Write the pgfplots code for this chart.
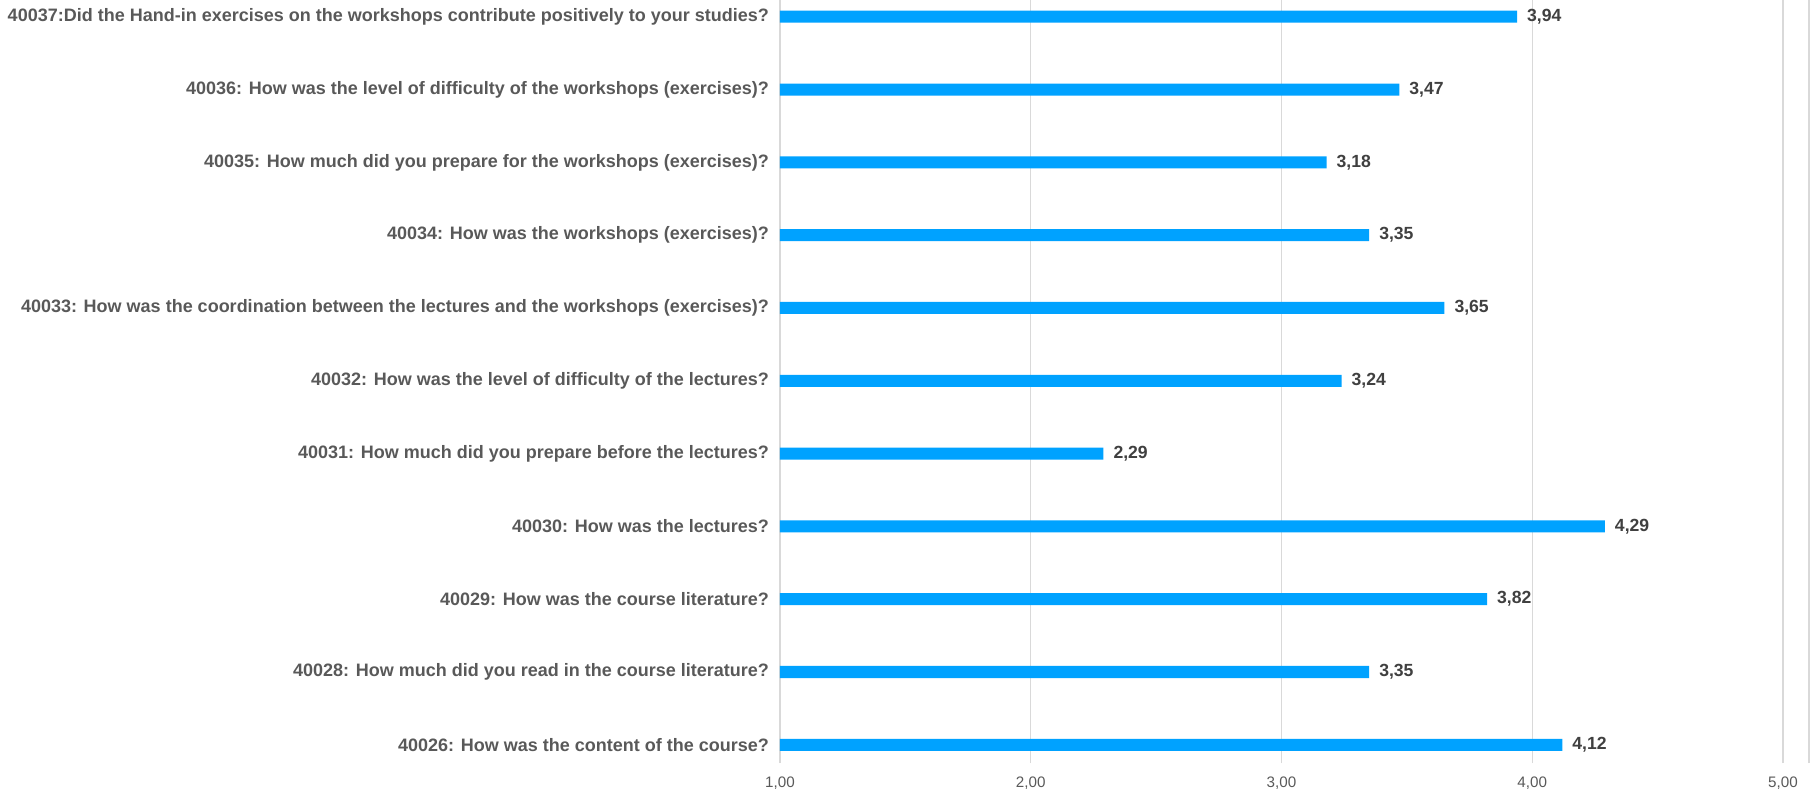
\documentclass[border=0pt]{standalone}
\usepackage{fontspec}
\setmainfont{Liberation Sans}
\usepackage{pgfplots}
\pgfplotsset{compat=1.18}
\definecolor{barblue}{RGB}{0,162,255}
\definecolor{lblgray}{RGB}{89,89,89}
\definecolor{valgray}{RGB}{64,64,64}
\definecolor{gridgray}{RGB}{217,217,217}
\begin{document}
\begin{tikzpicture}
\begin{axis}[
 scale only axis, width=514.5pt, height=381.5pt,
 xbar, bar width=6pt,
 xmin=1, xmax=5.104, ymin=-0.25, ymax=10.23,
 axis line style={draw=none},
 xtick={1,2,3,4,5},
 extra x ticks={5.104}, extra x tick labels={},
 extra x tick style={xmajorgrids=true},
 xmajorgrids, grid style={gridgray, line width=0.6pt},
 major tick length=0pt,
 ytick={0,...,10},
 yticklabels={
  {40026: How was the content of the course?},
  {40028: How much did you read in the course literature?},
  {40029: How was the course literature?},
  {40030: How was the lectures?},
  {40031: How much did you prepare before the lectures?},
  {40032: How was the level of difficulty of the lectures?},
  {40033: How was the coordination between the lectures and the workshops (exercises)?},
  {40034: How was the workshops (exercises)?},
  {40035: How much did you prepare for the workshops (exercises)?},
  {40036: How was the level of difficulty of the workshops (exercises)?},
  {40037:Did the Hand-in exercises on the workshops contribute positively to your studies?}},
 yticklabel style={font=\bfseries\fontsize{9}{11}\selectfont, text=lblgray, xshift=-2pt},
 xticklabel style={font=\fontsize{7.6}{9}\selectfont, text=lblgray, anchor=center, yshift=-10pt},
 /pgf/number format/fixed, /pgf/number format/fixed zerofill,
 /pgf/number format/precision=2, /pgf/number format/use comma,
 /pgf/number format/assume math mode=true,
 nodes near coords,
 every node near coord/.append style={font=\bfseries\fontsize{8.8}{10}\selectfont, text=valgray, xshift=1.5pt},
]
\addplot[draw=none, fill=barblue] coordinates {
 (4.12,0) (3.35,1) (3.82,2) (4.29,3) (2.29,4) (3.24,5)
 (3.65,6) (3.35,7) (3.18,8) (3.47,9) (3.94,10)};
\end{axis}
\pgfresetboundingbox
\path[use as bounding box] ([xshift=-390pt,yshift=-15.5pt]current axis.south west) rectangle ([xshift=2.5pt]current axis.north east);
\end{tikzpicture}
\end{document}
